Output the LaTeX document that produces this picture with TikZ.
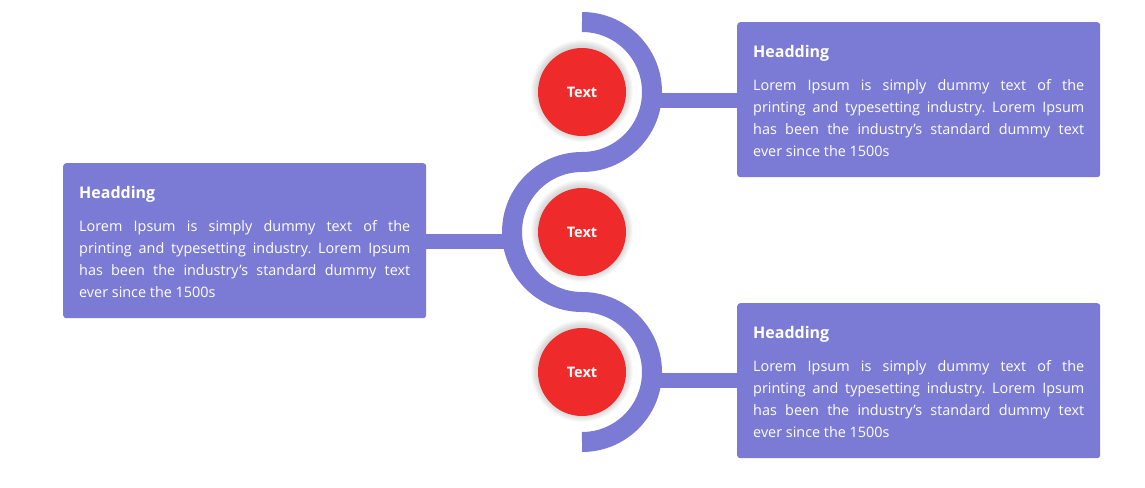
\documentclass[tikz,border=0pt]{standalone}
\usepackage{fontspec}
\setmainfont{Open Sans}
\definecolor{purp}{HTML}{7B7BD6}
\definecolor{redc}{HTML}{EE2A2A}
\tikzset{
  infobox/.style={fill=purp, rounded corners=3pt, minimum width=363pt, minimum height=155pt, inner sep=0pt, anchor=north west},
  headtxt/.style={anchor=base west, inner sep=0pt, text=white, font=\fontsize{16}{18}\selectfont\bfseries},
  bodytxt/.style={anchor=base west, inner sep=0pt, text=white, text width=331pt, align=justify, font=\fontsize{14.4}{22}\selectfont},
  dot/.style={circle, fill=redc, minimum size=88pt, inner sep=0pt, text=white, font=\fontsize{14.5}{16}\selectfont\bfseries},
  track/.style={draw=purp, line width=20pt},
  link/.style={draw=purp, line width=15pt}
}
\begin{document}
\begin{tikzpicture}[x=1pt,y=1pt]
\useasboundingbox (0,0) rectangle (1145,-487);
% boxes
\node[infobox] (b1) at (737,-22) {};
\node[infobox] (b2) at (63,-163) {};
\node[infobox] (b3) at (737,-303) {};
\foreach \b in {b1,b2,b3}{
  \node[headtxt] (\b h) at ([shift={(16,-35)}]\b.north west) {Headding};
  \node[bodytxt] (\b t) at ([shift={(16,-68)}]\b.north west) {\frenchspacing\hyphenpenalty=10000 Lorem Ipsum is simply dummy text of the\linebreak printing and typesetting industry. Lorem Ipsum\linebreak has been the industry's standard dummy text\linebreak ever since the 1500s\par};
}
% track
\coordinate (s0) at (582,-22);
\draw[track] (s0) arc[start angle=90, end angle=-90, radius=70]
  arc[start angle=90, end angle=270, radius=70]
  arc[start angle=90, end angle=-90, radius=70];
\coordinate (j1) at (655,-100);
\coordinate (j2) at (510,-241);
\coordinate (j3) at (655,-380);
\draw[link] (j1) -- (j1 -| b1.west);
\draw[link] (j2) -- (j2 -| b2.east);
\draw[link] (j3) -- (j3 -| b3.west);
% circles with soft shadow
\foreach \n/\y in {c1/92,c2/232,c3/372}{
  \foreach \r in {51,50,49,48,47,46,45}{
    \fill[black, opacity=0.022] (582,-\y+1) circle (\r);
  }
  \node[dot] (\n) at (582,-\y) {Text};
}
\end{tikzpicture}
\end{document}
